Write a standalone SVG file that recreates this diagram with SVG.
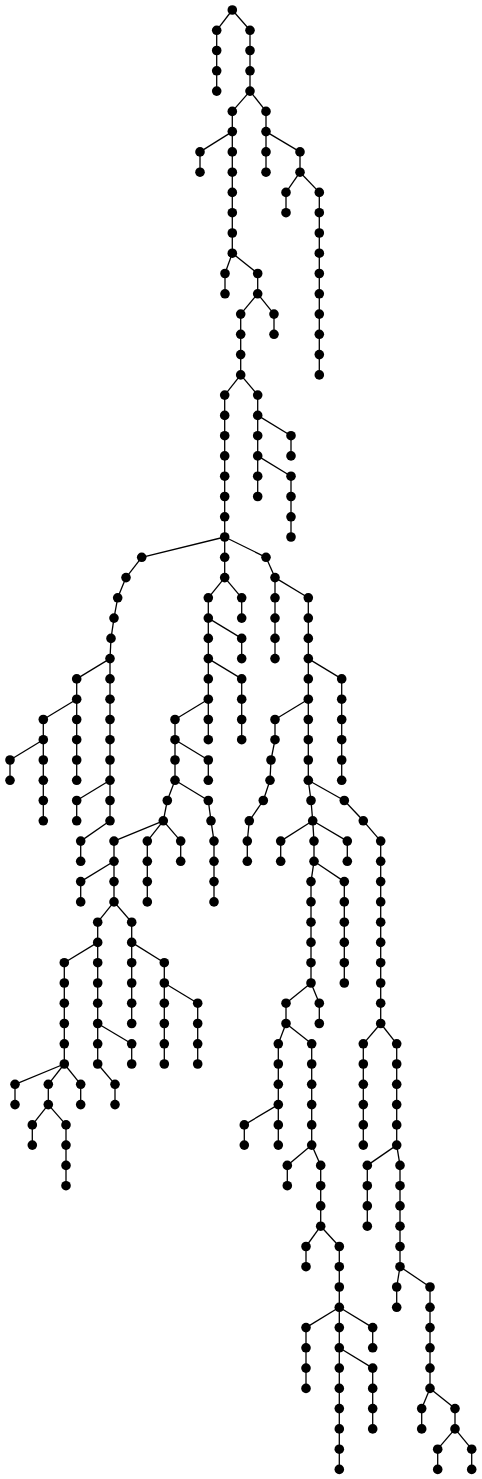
<svg xmlns="http://www.w3.org/2000/svg" width="482" height="1479" viewBox="0 0 482 1479">
<style>
.edges path{stroke:#000;stroke-width:1.3;fill:none}
.node circle{fill:#000}
</style>
<rect width="482" height="1479" fill="#fff"/>
<g id="connectors" class="edges">
<path d="M232.3 10L216.7 30.3"/><path d="M216.7 30.3L216.7 50.5"/><path d="M216.7 50.5L216.7 70.8"/><path d="M216.7 70.8L216.7 91.1"/>
<path d="M232.3 10L250 30.3"/><path d="M250 30.3L250 50.5"/><path d="M250 50.5L250 70.8"/><path d="M250 70.8L250 91.1"/>
<path d="M250 91.1L232.3 111.4"/><path d="M250 91.1L266 111.4"/><path d="M232.3 111.4L232.3 131.6"/><path d="M232.3 131.6L200 151.9"/><path d="M232.3 131.6L232.3 151.9"/><path d="M200 151.9L200 172.2"/>
<path d="M232.3 151.9L232.3 172.2"/><path d="M232.3 172.2L232.3 192.4"/><path d="M232.3 192.4L232.3 212.7"/><path d="M232.3 212.7L232.3 233"/><path d="M232.3 233L232.3 253.2"/>
<path d="M232.3 253.2L225 273.5"/><path d="M232.3 253.2L257.7 273.5"/><path d="M225 273.5L225 293.8"/><path d="M257.7 273.5L257.7 293.8"/>
<path d="M257.7 293.8L240.7 314.1"/><path d="M257.7 293.8L274 314.1"/><path d="M274 314.1L274 334.3"/><path d="M240.7 314.1L240.7 334.3"/><path d="M240.7 334.3L240.7 354.6"/><path d="M240.7 354.6L240.7 374.9"/>
<path d="M240.7 374.9L224.7 395.1"/><path d="M240.7 374.9L257.7 395.1"/>
<path d="M224.7 395.1L224.7 415.4"/><path d="M224.7 415.4L224.7 435.7"/><path d="M224.7 435.7L224.7 455.9"/><path d="M224.7 455.9L224.7 476.2"/><path d="M224.7 476.2L224.7 496.5"/><path d="M224.7 496.5L224.7 516.8"/><path d="M224.7 516.8L224.7 537"/>
<path d="M257.7 395.1L257.7 415.4"/><path d="M257.7 415.4L257.7 435.7"/><path d="M257.7 415.4L291 435.7"/><path d="M291 435.7L291 455.9"/><path d="M257.7 435.7L257.7 455.9"/><path d="M257.7 455.9L257.7 476.2"/><path d="M257.7 455.9L291 476.2"/><path d="M257.7 476.2L257.7 496.5"/><path d="M291 476.2L291 496.5"/><path d="M291 496.5L291 516.8"/><path d="M291 516.8L291 537"/>
<path d="M266 111.4L266 131.6"/><path d="M266 131.6L266 151.9"/><path d="M266 131.6L300 151.9"/><path d="M266 151.9L266 172.2"/><path d="M300 151.9L300 172.2"/><path d="M300 172.2L286 192.4"/><path d="M300 172.2L319.3 192.4"/><path d="M286 192.4L286 212.7"/>
<path d="M319.3 192.4L319.3 212.7"/><path d="M319.3 212.7L319.3 233"/><path d="M319.3 233L319.3 253.2"/><path d="M319.3 253.2L319.3 273.5"/><path d="M319.3 273.5L319.3 293.8"/><path d="M319.3 293.8L319.3 314.1"/><path d="M319.3 314.1L319.3 334.3"/><path d="M319.3 334.3L319.3 354.6"/><path d="M319.3 354.6L319.3 374.9"/>
<path d="M224.7 537L141.7 557.3"/><path d="M224.7 537L224.7 557.3"/><path d="M224.7 537L266 557.3"/>
<path d="M141.7 557.3L126 577.6"/><path d="M126 577.6L117.7 597.8"/><path d="M117.7 597.8L114 618.1"/><path d="M114 618.1L111 638.4"/><path d="M111 638.4L110 658.6"/>
<path d="M110 658.6L76.7 678.9"/><path d="M110 658.6L110 678.9"/><path d="M76.7 678.9L76.7 699.2"/><path d="M76.7 699.2L43.3 719.5"/><path d="M76.7 699.2L76.7 719.5"/><path d="M76.7 719.5L76.7 739.7"/><path d="M76.7 739.7L76.7 760"/><path d="M76.7 760L76.7 780.3"/>
<path d="M43.3 719.5L43.3 739.7"/><path d="M43.3 739.7L10 760"/><path d="M43.3 739.7L43.3 760"/><path d="M10 760L10 780.3"/><path d="M43.3 760L43.3 780.3"/><path d="M43.3 780.3L43.3 800.5"/><path d="M43.3 800.5L43.3 820.8"/>
<path d="M110 678.9L110 699.2"/><path d="M110 699.2L110 719.5"/><path d="M110 719.5L110 739.7"/><path d="M110 739.7L110 760"/><path d="M110 760L110 780.3"/><path d="M110 780.3L110 800.5"/><path d="M110 800.5L110 820.8"/>
<path d="M110 780.3L76.7 800.5"/><path d="M76.7 800.5L76.7 820.8"/><path d="M110 820.8L80.7 841.1"/><path d="M80.7 841.1L80.7 861.3"/>
<path d="M224.7 557.3L224.7 577.6"/><path d="M224.7 577.6L208.3 597.8"/><path d="M224.7 577.6L241.7 597.8"/><path d="M241.7 597.8L241.7 618.1"/><path d="M208.3 597.8L208.3 618.1"/><path d="M208.3 618.1L208.3 638.4"/><path d="M208.3 618.1L241.7 638.4"/><path d="M241.7 638.4L241.7 658.6"/>
<path d="M208.3 638.4L208.3 658.6"/><path d="M208.3 658.6L208.3 678.9"/><path d="M208.3 658.6L241.7 678.9"/><path d="M241.7 678.9L241.7 699.2"/><path d="M241.7 699.2L241.7 719.5"/><path d="M241.7 719.5L241.7 739.7"/>
<path d="M208.3 678.9L208.3 699.2"/><path d="M208.3 699.2L208.3 719.5"/><path d="M208.3 699.2L175 719.5"/><path d="M208.3 719.5L208.3 739.7"/><path d="M175 719.5L175 739.7"/><path d="M175 739.7L175 760"/><path d="M175 739.7L208.3 760"/><path d="M208.3 760L208.3 780.3"/><path d="M175 760L175 780.3"/>
<path d="M175 780.3L167.3 800.5"/><path d="M175 780.3L208.3 800.5"/><path d="M208.3 800.5L211 820.8"/><path d="M211 820.8L214 841.1"/><path d="M214 841.1L214 861.3"/><path d="M214 861.3L214 881.6"/><path d="M214 881.6L214 901.9"/>
<path d="M167.3 800.5L163.3 820.8"/><path d="M163.3 820.8L114 841.1"/><path d="M163.3 820.8L147.3 841.1"/><path d="M163.3 820.8L180.7 841.1"/><path d="M180.7 841.1L180.7 861.3"/><path d="M147.3 841.1L147.3 861.3"/><path d="M147.3 861.3L147.3 881.6"/><path d="M147.3 881.6L147.3 901.9"/>
<path d="M114 841.1L114 861.3"/><path d="M114 861.3L80.7 881.6"/><path d="M114 861.3L114 881.6"/><path d="M80.7 881.6L80.7 901.9"/><path d="M114 881.6L114 901.9"/><path d="M114 901.9L97.7 922.2"/><path d="M114 901.9L131.7 922.2"/>
<path d="M97.7 922.2L97.7 942.4"/><path d="M97.7 942.4L64.3 962.7"/><path d="M97.7 942.4L97.7 962.7"/>
<path d="M64.3 962.7L64.3 983"/><path d="M64.3 983L64.3 1003.2"/><path d="M64.3 1003.2L64.3 1023.5"/><path d="M64.3 1023.5L64.3 1043.8"/><path d="M64.3 1043.8L64.3 1064"/>
<path d="M64.3 1064L15 1084.3"/><path d="M64.3 1064L48.3 1084.3"/><path d="M64.3 1064L80.7 1084.3"/><path d="M15 1084.3L15 1104.6"/><path d="M80.7 1084.3L80.7 1104.6"/><path d="M48.3 1084.3L48.3 1104.6"/>
<path d="M48.3 1104.6L32.3 1124.9"/><path d="M48.3 1104.6L66 1124.9"/><path d="M32.3 1124.9L32.3 1145.1"/><path d="M66 1124.9L66 1145.1"/><path d="M66 1145.1L66 1165.4"/><path d="M66 1165.4L66 1185.7"/>
<path d="M97.7 962.7L97.7 983"/><path d="M97.7 983L97.7 1003.2"/><path d="M97.7 1003.2L97.7 1023.5"/><path d="M97.7 1023.5L97.7 1043.8"/><path d="M97.7 1023.5L131.7 1043.8"/><path d="M131.7 1043.8L131.7 1064"/><path d="M97.7 1043.8L97.7 1064"/><path d="M97.7 1064L115 1084.3"/><path d="M115 1084.3L115 1104.6"/>
<path d="M131.7 922.2L131.7 942.4"/><path d="M131.7 942.4L131.7 962.7"/><path d="M131.7 942.4L164.3 962.7"/><path d="M131.7 962.7L131.7 983"/><path d="M131.7 983L131.7 1003.2"/><path d="M131.7 1003.2L131.7 1023.5"/>
<path d="M164.3 962.7L164.3 983"/><path d="M164.3 983L164.3 1003.2"/><path d="M164.3 983L197.7 1003.2"/><path d="M164.3 1003.2L164.3 1023.5"/><path d="M164.3 1023.5L164.3 1043.8"/><path d="M164.3 1043.8L164.3 1064"/>
<path d="M197.7 1003.2L197.7 1023.5"/><path d="M197.7 1023.5L197.7 1043.8"/><path d="M197.7 1043.8L197.7 1064"/>
<path d="M266 557.3L275 577.6"/><path d="M275 577.6L275 597.8"/><path d="M275 577.6L308.3 597.8"/><path d="M275 597.8L275 618.1"/><path d="M275 618.1L275 638.4"/><path d="M275 638.4L275 658.6"/>
<path d="M308.3 597.8L308.3 618.1"/><path d="M308.3 618.1L308.3 638.4"/><path d="M308.3 638.4L308.3 658.6"/><path d="M308.3 658.6L308.3 678.9"/><path d="M308.3 658.6L341.7 678.9"/>
<path d="M341.7 678.9L341.7 699.2"/><path d="M341.7 699.2L341.7 719.5"/><path d="M341.7 719.5L341.7 739.7"/><path d="M341.7 739.7L341.7 760"/><path d="M341.7 760L341.7 780.3"/>
<path d="M308.3 678.9L308.3 699.2"/><path d="M308.3 699.2L308.3 719.5"/><path d="M308.3 699.2L275 719.5"/><path d="M275 719.5L275 739.7"/><path d="M275 739.7L271 760"/><path d="M271 760L270 780.3"/><path d="M270 780.3L263.3 800.5"/><path d="M263.3 800.5L249.3 820.8"/><path d="M249.3 820.8L247.3 841.1"/><path d="M247.3 841.1L247.3 861.3"/>
<path d="M308.3 719.5L308.3 739.7"/><path d="M308.3 739.7L308.3 760"/><path d="M308.3 760L308.3 780.3"/><path d="M308.3 780.3L311 800.5"/><path d="M308.3 780.3L344.3 800.5"/>
<path d="M311 800.5L312.7 820.8"/><path d="M312.7 820.8L280.7 841.1"/><path d="M312.7 820.8L314 841.1"/><path d="M312.7 820.8L347.3 841.1"/><path d="M280.7 841.1L280.7 861.3"/><path d="M347.3 841.1L347.3 861.3"/><path d="M314 841.1L314 861.3"/>
<path d="M314 861.3L311 881.6"/><path d="M314 861.3L344.3 881.6"/>
<path d="M344.3 881.6L344.3 901.9"/><path d="M344.3 901.9L344.3 922.2"/><path d="M344.3 922.2L344.3 942.4"/><path d="M344.3 942.4L344.3 962.7"/><path d="M344.3 962.7L344.3 983"/>
<path d="M311 881.6L311 901.9"/><path d="M311 901.9L311 922.2"/><path d="M311 922.2L311 942.4"/><path d="M311 942.4L311 962.7"/><path d="M311 962.7L311 983"/>
<path d="M311 983L286 1003.2"/><path d="M311 983L319.3 1003.2"/><path d="M319.3 1003.2L319.3 1023.5"/><path d="M286 1003.2L286 1023.5"/><path d="M286 1023.5L278.3 1043.8"/><path d="M286 1023.5L311.7 1043.8"/>
<path d="M278.3 1043.8L278.3 1064"/><path d="M278.3 1064L278.3 1084.3"/><path d="M278.3 1084.3L278.3 1104.6"/><path d="M278.3 1104.6L278.3 1124.9"/><path d="M278.3 1104.6L244.3 1124.9"/><path d="M278.3 1124.9L278.3 1145.1"/><path d="M244.3 1124.9L244.3 1145.1"/>
<path d="M311.7 1043.8L311.7 1064"/><path d="M311.7 1064L311.7 1084.3"/><path d="M311.7 1084.3L311.7 1104.6"/><path d="M311.7 1104.6L311.7 1124.9"/><path d="M311.7 1124.9L311.7 1145.1"/>
<path d="M311.7 1145.1L287.3 1165.4"/><path d="M311.7 1145.1L320.7 1165.4"/><path d="M287.3 1165.4L287.3 1185.7"/><path d="M320.7 1165.4L320.7 1185.7"/><path d="M320.7 1185.7L320.7 1205.9"/><path d="M320.7 1205.9L320.7 1226.2"/>
<path d="M320.7 1226.2L306 1246.5"/><path d="M320.7 1226.2L339.3 1246.5"/><path d="M306 1246.5L306 1266.7"/><path d="M339.3 1246.5L339.3 1266.7"/><path d="M339.3 1266.7L339.3 1287"/><path d="M339.3 1287L339.3 1307.3"/>
<path d="M339.3 1307.3L306 1327.6"/><path d="M339.3 1307.3L339.3 1327.6"/><path d="M339.3 1307.3L372.7 1327.6"/>
<path d="M306 1327.6L306 1347.8"/><path d="M306 1347.8L306 1368.1"/><path d="M306 1368.1L306 1388.4"/><path d="M372.7 1327.6L372.7 1347.8"/>
<path d="M339.3 1327.6L339.3 1347.8"/><path d="M339.3 1347.8L339.3 1368.1"/><path d="M339.3 1347.8L372.7 1368.1"/>
<path d="M339.3 1368.1L339.3 1388.4"/><path d="M339.3 1388.4L339.3 1408.6"/><path d="M339.3 1408.6L339.3 1428.9"/><path d="M339.3 1428.9L339.3 1449.2"/><path d="M339.3 1449.2L339.3 1469.4"/>
<path d="M372.7 1368.1L372.7 1388.4"/><path d="M372.7 1388.4L372.7 1408.6"/><path d="M372.7 1408.6L372.7 1428.9"/>
<path d="M344.3 800.5L363.3 820.8"/><path d="M363.3 820.8L380.7 841.1"/>
<path d="M380.7 841.1L380.7 861.3"/><path d="M380.7 861.3L380.7 881.6"/><path d="M380.7 881.6L380.7 901.9"/><path d="M380.7 901.9L380.7 922.2"/><path d="M380.7 922.2L380.7 942.4"/><path d="M380.7 942.4L380.7 962.7"/><path d="M380.7 962.7L380.7 983"/><path d="M380.7 983L380.7 1003.2"/><path d="M380.7 1003.2L380.7 1023.5"/>
<path d="M380.7 1023.5L363.3 1043.8"/><path d="M380.7 1023.5L396.7 1043.8"/>
<path d="M363.3 1043.8L363.3 1064"/><path d="M363.3 1064L363.3 1084.3"/><path d="M363.3 1084.3L363.3 1104.6"/><path d="M363.3 1104.6L363.3 1124.9"/><path d="M363.3 1124.9L363.3 1145.1"/>
<path d="M396.7 1043.8L396.7 1064"/><path d="M396.7 1064L396.7 1084.3"/><path d="M396.7 1084.3L396.7 1104.6"/><path d="M396.7 1104.6L396.7 1124.9"/><path d="M396.7 1124.9L396.7 1145.1"/>
<path d="M396.7 1145.1L367.3 1165.4"/><path d="M396.7 1145.1L400 1165.4"/>
<path d="M367.3 1165.4L367.3 1185.7"/><path d="M367.3 1185.7L367.3 1205.9"/><path d="M367.3 1205.9L367.3 1226.2"/>
<path d="M400 1165.4L400 1185.7"/><path d="M400 1185.7L400 1205.9"/><path d="M400 1205.9L400 1226.2"/><path d="M400 1226.2L400 1246.5"/><path d="M400 1246.5L400 1266.7"/>
<path d="M400 1266.7L396.7 1287"/><path d="M400 1266.7L430 1287"/><path d="M396.7 1287L396.7 1307.3"/>
<path d="M430 1287L430 1307.3"/><path d="M430 1307.3L430 1327.6"/><path d="M430 1327.6L430 1347.8"/><path d="M430 1347.8L430 1368.1"/><path d="M430 1368.1L430 1388.4"/>
<path d="M430 1388.4L421.7 1408.6"/><path d="M430 1388.4L455 1408.6"/><path d="M421.7 1408.6L421.7 1428.9"/><path d="M455 1408.6L455 1428.9"/>
<path d="M455 1428.9L437.7 1449.2"/><path d="M455 1428.9L471.7 1449.2"/><path d="M437.7 1449.2L437.7 1469.4"/><path d="M471.7 1449.2L471.7 1469.4"/>
</g>
<g class="node">
<g id="n0"><circle cx="232.3" cy="10" r="4.8"/></g>
<g id="n1"><circle cx="216.7" cy="30.3" r="4.8"/></g>
<g id="n2"><circle cx="216.7" cy="50.5" r="4.8"/></g>
<g id="n3"><circle cx="216.7" cy="70.8" r="4.8"/></g>
<g id="n4"><circle cx="216.7" cy="91.1" r="4.8"/></g>
<g id="n5"><circle cx="250" cy="30.3" r="4.8"/></g>
<g id="n6"><circle cx="250" cy="50.5" r="4.8"/></g>
<g id="n7"><circle cx="250" cy="70.8" r="4.8"/></g>
<g id="n8"><circle cx="250" cy="91.1" r="4.8"/></g>
<g id="n9"><circle cx="232.3" cy="111.4" r="4.8"/></g>
<g id="n10"><circle cx="266" cy="111.4" r="4.8"/></g>
<g id="n11"><circle cx="232.3" cy="131.6" r="4.8"/></g>
<g id="n12"><circle cx="200" cy="151.9" r="4.8"/></g>
<g id="n13"><circle cx="232.3" cy="151.9" r="4.8"/></g>
<g id="n14"><circle cx="200" cy="172.2" r="4.8"/></g>
<g id="n15"><circle cx="232.3" cy="172.2" r="4.8"/></g>
<g id="n16"><circle cx="232.3" cy="192.4" r="4.8"/></g>
<g id="n17"><circle cx="232.3" cy="212.7" r="4.8"/></g>
<g id="n18"><circle cx="232.3" cy="233" r="4.8"/></g>
<g id="n19"><circle cx="232.3" cy="253.2" r="4.8"/></g>
<g id="n20"><circle cx="225" cy="273.5" r="4.8"/></g>
<g id="n21"><circle cx="257.7" cy="273.5" r="4.8"/></g>
<g id="n22"><circle cx="225" cy="293.8" r="4.8"/></g>
<g id="n23"><circle cx="257.7" cy="293.8" r="4.8"/></g>
<g id="n24"><circle cx="240.7" cy="314.1" r="4.8"/></g>
<g id="n25"><circle cx="274" cy="314.1" r="4.8"/></g>
<g id="n26"><circle cx="274" cy="334.3" r="4.8"/></g>
<g id="n27"><circle cx="240.7" cy="334.3" r="4.8"/></g>
<g id="n28"><circle cx="240.7" cy="354.6" r="4.8"/></g>
<g id="n29"><circle cx="240.7" cy="374.9" r="4.8"/></g>
<g id="n30"><circle cx="224.7" cy="395.1" r="4.8"/></g>
<g id="n31"><circle cx="257.7" cy="395.1" r="4.8"/></g>
<g id="n32"><circle cx="224.7" cy="415.4" r="4.8"/></g>
<g id="n33"><circle cx="224.7" cy="435.7" r="4.8"/></g>
<g id="n34"><circle cx="224.7" cy="455.9" r="4.8"/></g>
<g id="n35"><circle cx="224.7" cy="476.2" r="4.8"/></g>
<g id="n36"><circle cx="224.7" cy="496.5" r="4.8"/></g>
<g id="n37"><circle cx="224.7" cy="516.8" r="4.8"/></g>
<g id="n38"><circle cx="224.7" cy="537" r="4.8"/></g>
<g id="n39"><circle cx="257.7" cy="415.4" r="4.8"/></g>
<g id="n40"><circle cx="257.7" cy="435.7" r="4.8"/></g>
<g id="n41"><circle cx="291" cy="435.7" r="4.8"/></g>
<g id="n42"><circle cx="291" cy="455.9" r="4.8"/></g>
<g id="n43"><circle cx="257.7" cy="455.9" r="4.8"/></g>
<g id="n44"><circle cx="257.7" cy="476.2" r="4.8"/></g>
<g id="n45"><circle cx="291" cy="476.2" r="4.8"/></g>
<g id="n46"><circle cx="257.7" cy="496.5" r="4.8"/></g>
<g id="n47"><circle cx="291" cy="496.5" r="4.8"/></g>
<g id="n48"><circle cx="291" cy="516.8" r="4.8"/></g>
<g id="n49"><circle cx="291" cy="537" r="4.8"/></g>
<g id="n50"><circle cx="266" cy="131.6" r="4.8"/></g>
<g id="n51"><circle cx="266" cy="151.9" r="4.8"/></g>
<g id="n52"><circle cx="300" cy="151.9" r="4.8"/></g>
<g id="n53"><circle cx="266" cy="172.2" r="4.8"/></g>
<g id="n54"><circle cx="300" cy="172.2" r="4.8"/></g>
<g id="n55"><circle cx="286" cy="192.4" r="4.8"/></g>
<g id="n56"><circle cx="319.3" cy="192.4" r="4.8"/></g>
<g id="n57"><circle cx="286" cy="212.7" r="4.8"/></g>
<g id="n58"><circle cx="319.3" cy="212.7" r="4.8"/></g>
<g id="n59"><circle cx="319.3" cy="233" r="4.8"/></g>
<g id="n60"><circle cx="319.3" cy="253.2" r="4.8"/></g>
<g id="n61"><circle cx="319.3" cy="273.5" r="4.8"/></g>
<g id="n62"><circle cx="319.3" cy="293.8" r="4.8"/></g>
<g id="n63"><circle cx="319.3" cy="314.1" r="4.8"/></g>
<g id="n64"><circle cx="319.3" cy="334.3" r="4.8"/></g>
<g id="n65"><circle cx="319.3" cy="354.6" r="4.8"/></g>
<g id="n66"><circle cx="319.3" cy="374.9" r="4.8"/></g>
<g id="n67"><circle cx="141.7" cy="557.3" r="4.8"/></g>
<g id="n68"><circle cx="224.7" cy="557.3" r="4.8"/></g>
<g id="n69"><circle cx="266" cy="557.3" r="4.8"/></g>
<g id="n70"><circle cx="126" cy="577.6" r="4.8"/></g>
<g id="n71"><circle cx="117.7" cy="597.8" r="4.8"/></g>
<g id="n72"><circle cx="114" cy="618.1" r="4.8"/></g>
<g id="n73"><circle cx="111" cy="638.4" r="4.8"/></g>
<g id="n74"><circle cx="110" cy="658.6" r="4.8"/></g>
<g id="n75"><circle cx="76.7" cy="678.9" r="4.8"/></g>
<g id="n76"><circle cx="110" cy="678.9" r="4.8"/></g>
<g id="n77"><circle cx="76.7" cy="699.2" r="4.8"/></g>
<g id="n78"><circle cx="43.3" cy="719.5" r="4.8"/></g>
<g id="n79"><circle cx="76.7" cy="719.5" r="4.8"/></g>
<g id="n80"><circle cx="76.7" cy="739.7" r="4.8"/></g>
<g id="n81"><circle cx="76.7" cy="760" r="4.8"/></g>
<g id="n82"><circle cx="76.7" cy="780.3" r="4.8"/></g>
<g id="n83"><circle cx="43.3" cy="739.7" r="4.8"/></g>
<g id="n84"><circle cx="10" cy="760" r="4.8"/></g>
<g id="n85"><circle cx="43.3" cy="760" r="4.8"/></g>
<g id="n86"><circle cx="10" cy="780.3" r="4.8"/></g>
<g id="n87"><circle cx="43.3" cy="780.3" r="4.8"/></g>
<g id="n88"><circle cx="43.3" cy="800.5" r="4.8"/></g>
<g id="n89"><circle cx="43.3" cy="820.8" r="4.8"/></g>
<g id="n90"><circle cx="110" cy="699.2" r="4.8"/></g>
<g id="n91"><circle cx="110" cy="719.5" r="4.8"/></g>
<g id="n92"><circle cx="110" cy="739.7" r="4.8"/></g>
<g id="n93"><circle cx="110" cy="760" r="4.8"/></g>
<g id="n94"><circle cx="110" cy="780.3" r="4.8"/></g>
<g id="n95"><circle cx="110" cy="800.5" r="4.8"/></g>
<g id="n96"><circle cx="110" cy="820.8" r="4.8"/></g>
<g id="n97"><circle cx="76.7" cy="800.5" r="4.8"/></g>
<g id="n98"><circle cx="76.7" cy="820.8" r="4.8"/></g>
<g id="n99"><circle cx="80.7" cy="841.1" r="4.8"/></g>
<g id="n100"><circle cx="80.7" cy="861.3" r="4.8"/></g>
<g id="n101"><circle cx="224.7" cy="577.6" r="4.8"/></g>
<g id="n102"><circle cx="208.3" cy="597.8" r="4.8"/></g>
<g id="n103"><circle cx="241.7" cy="597.8" r="4.8"/></g>
<g id="n104"><circle cx="241.7" cy="618.1" r="4.8"/></g>
<g id="n105"><circle cx="208.3" cy="618.1" r="4.8"/></g>
<g id="n106"><circle cx="208.3" cy="638.4" r="4.8"/></g>
<g id="n107"><circle cx="241.7" cy="638.4" r="4.8"/></g>
<g id="n108"><circle cx="241.7" cy="658.6" r="4.8"/></g>
<g id="n109"><circle cx="208.3" cy="658.6" r="4.8"/></g>
<g id="n110"><circle cx="208.3" cy="678.9" r="4.8"/></g>
<g id="n111"><circle cx="241.7" cy="678.9" r="4.8"/></g>
<g id="n112"><circle cx="241.7" cy="699.2" r="4.8"/></g>
<g id="n113"><circle cx="241.7" cy="719.5" r="4.8"/></g>
<g id="n114"><circle cx="241.7" cy="739.7" r="4.8"/></g>
<g id="n115"><circle cx="208.3" cy="699.2" r="4.8"/></g>
<g id="n116"><circle cx="208.3" cy="719.5" r="4.8"/></g>
<g id="n117"><circle cx="175" cy="719.5" r="4.8"/></g>
<g id="n118"><circle cx="208.3" cy="739.7" r="4.8"/></g>
<g id="n119"><circle cx="175" cy="739.7" r="4.8"/></g>
<g id="n120"><circle cx="175" cy="760" r="4.8"/></g>
<g id="n121"><circle cx="208.3" cy="760" r="4.8"/></g>
<g id="n122"><circle cx="208.3" cy="780.3" r="4.8"/></g>
<g id="n123"><circle cx="175" cy="780.3" r="4.8"/></g>
<g id="n124"><circle cx="167.3" cy="800.5" r="4.8"/></g>
<g id="n125"><circle cx="208.3" cy="800.5" r="4.8"/></g>
<g id="n126"><circle cx="211" cy="820.8" r="4.8"/></g>
<g id="n127"><circle cx="214" cy="841.1" r="4.8"/></g>
<g id="n128"><circle cx="214" cy="861.3" r="4.8"/></g>
<g id="n129"><circle cx="214" cy="881.6" r="4.8"/></g>
<g id="n130"><circle cx="214" cy="901.9" r="4.8"/></g>
<g id="n131"><circle cx="163.3" cy="820.8" r="4.8"/></g>
<g id="n132"><circle cx="114" cy="841.1" r="4.8"/></g>
<g id="n133"><circle cx="147.3" cy="841.1" r="4.8"/></g>
<g id="n134"><circle cx="180.7" cy="841.1" r="4.8"/></g>
<g id="n135"><circle cx="180.7" cy="861.3" r="4.8"/></g>
<g id="n136"><circle cx="147.3" cy="861.3" r="4.8"/></g>
<g id="n137"><circle cx="147.3" cy="881.6" r="4.8"/></g>
<g id="n138"><circle cx="147.3" cy="901.9" r="4.8"/></g>
<g id="n139"><circle cx="114" cy="861.3" r="4.8"/></g>
<g id="n140"><circle cx="80.7" cy="881.6" r="4.8"/></g>
<g id="n141"><circle cx="114" cy="881.6" r="4.8"/></g>
<g id="n142"><circle cx="80.7" cy="901.9" r="4.8"/></g>
<g id="n143"><circle cx="114" cy="901.9" r="4.8"/></g>
<g id="n144"><circle cx="97.7" cy="922.2" r="4.8"/></g>
<g id="n145"><circle cx="131.7" cy="922.2" r="4.8"/></g>
<g id="n146"><circle cx="97.7" cy="942.4" r="4.8"/></g>
<g id="n147"><circle cx="64.3" cy="962.7" r="4.8"/></g>
<g id="n148"><circle cx="97.7" cy="962.7" r="4.8"/></g>
<g id="n149"><circle cx="64.3" cy="983" r="4.8"/></g>
<g id="n150"><circle cx="64.3" cy="1003.2" r="4.8"/></g>
<g id="n151"><circle cx="64.3" cy="1023.5" r="4.8"/></g>
<g id="n152"><circle cx="64.3" cy="1043.8" r="4.8"/></g>
<g id="n153"><circle cx="64.3" cy="1064" r="4.8"/></g>
<g id="n154"><circle cx="15" cy="1084.3" r="4.8"/></g>
<g id="n155"><circle cx="48.3" cy="1084.3" r="4.8"/></g>
<g id="n156"><circle cx="80.7" cy="1084.3" r="4.8"/></g>
<g id="n157"><circle cx="15" cy="1104.6" r="4.8"/></g>
<g id="n158"><circle cx="80.7" cy="1104.6" r="4.8"/></g>
<g id="n159"><circle cx="48.3" cy="1104.6" r="4.8"/></g>
<g id="n160"><circle cx="32.3" cy="1124.9" r="4.8"/></g>
<g id="n161"><circle cx="66" cy="1124.9" r="4.8"/></g>
<g id="n162"><circle cx="32.3" cy="1145.1" r="4.8"/></g>
<g id="n163"><circle cx="66" cy="1145.1" r="4.8"/></g>
<g id="n164"><circle cx="66" cy="1165.4" r="4.8"/></g>
<g id="n165"><circle cx="66" cy="1185.7" r="4.8"/></g>
<g id="n166"><circle cx="97.7" cy="983" r="4.8"/></g>
<g id="n167"><circle cx="97.7" cy="1003.2" r="4.8"/></g>
<g id="n168"><circle cx="97.7" cy="1023.5" r="4.8"/></g>
<g id="n169"><circle cx="97.7" cy="1043.8" r="4.8"/></g>
<g id="n170"><circle cx="131.7" cy="1043.8" r="4.8"/></g>
<g id="n171"><circle cx="131.7" cy="1064" r="4.8"/></g>
<g id="n172"><circle cx="97.7" cy="1064" r="4.8"/></g>
<g id="n173"><circle cx="115" cy="1084.3" r="4.8"/></g>
<g id="n174"><circle cx="115" cy="1104.6" r="4.8"/></g>
<g id="n175"><circle cx="131.7" cy="942.4" r="4.8"/></g>
<g id="n176"><circle cx="131.7" cy="962.7" r="4.8"/></g>
<g id="n177"><circle cx="164.3" cy="962.7" r="4.8"/></g>
<g id="n178"><circle cx="131.7" cy="983" r="4.8"/></g>
<g id="n179"><circle cx="131.7" cy="1003.2" r="4.8"/></g>
<g id="n180"><circle cx="131.7" cy="1023.5" r="4.8"/></g>
<g id="n181"><circle cx="164.3" cy="983" r="4.8"/></g>
<g id="n182"><circle cx="164.3" cy="1003.2" r="4.8"/></g>
<g id="n183"><circle cx="197.7" cy="1003.2" r="4.8"/></g>
<g id="n184"><circle cx="164.3" cy="1023.5" r="4.8"/></g>
<g id="n185"><circle cx="164.3" cy="1043.8" r="4.8"/></g>
<g id="n186"><circle cx="164.3" cy="1064" r="4.8"/></g>
<g id="n187"><circle cx="197.7" cy="1023.5" r="4.8"/></g>
<g id="n188"><circle cx="197.7" cy="1043.8" r="4.8"/></g>
<g id="n189"><circle cx="197.7" cy="1064" r="4.8"/></g>
<g id="n190"><circle cx="275" cy="577.6" r="4.8"/></g>
<g id="n191"><circle cx="275" cy="597.8" r="4.8"/></g>
<g id="n192"><circle cx="308.3" cy="597.8" r="4.8"/></g>
<g id="n193"><circle cx="275" cy="618.1" r="4.8"/></g>
<g id="n194"><circle cx="275" cy="638.4" r="4.8"/></g>
<g id="n195"><circle cx="275" cy="658.6" r="4.8"/></g>
<g id="n196"><circle cx="308.3" cy="618.1" r="4.8"/></g>
<g id="n197"><circle cx="308.3" cy="638.4" r="4.8"/></g>
<g id="n198"><circle cx="308.3" cy="658.6" r="4.8"/></g>
<g id="n199"><circle cx="308.3" cy="678.9" r="4.8"/></g>
<g id="n200"><circle cx="341.7" cy="678.9" r="4.8"/></g>
<g id="n201"><circle cx="341.7" cy="699.2" r="4.8"/></g>
<g id="n202"><circle cx="341.7" cy="719.5" r="4.8"/></g>
<g id="n203"><circle cx="341.7" cy="739.7" r="4.8"/></g>
<g id="n204"><circle cx="341.7" cy="760" r="4.8"/></g>
<g id="n205"><circle cx="341.7" cy="780.3" r="4.8"/></g>
<g id="n206"><circle cx="308.3" cy="699.2" r="4.8"/></g>
<g id="n207"><circle cx="308.3" cy="719.5" r="4.8"/></g>
<g id="n208"><circle cx="275" cy="719.5" r="4.8"/></g>
<g id="n209"><circle cx="275" cy="739.7" r="4.8"/></g>
<g id="n210"><circle cx="271" cy="760" r="4.8"/></g>
<g id="n211"><circle cx="270" cy="780.3" r="4.8"/></g>
<g id="n212"><circle cx="263.3" cy="800.5" r="4.8"/></g>
<g id="n213"><circle cx="249.3" cy="820.8" r="4.8"/></g>
<g id="n214"><circle cx="247.3" cy="841.1" r="4.8"/></g>
<g id="n215"><circle cx="247.3" cy="861.3" r="4.8"/></g>
<g id="n216"><circle cx="308.3" cy="739.7" r="4.8"/></g>
<g id="n217"><circle cx="308.3" cy="760" r="4.8"/></g>
<g id="n218"><circle cx="308.3" cy="780.3" r="4.8"/></g>
<g id="n219"><circle cx="311" cy="800.5" r="4.8"/></g>
<g id="n220"><circle cx="344.3" cy="800.5" r="4.8"/></g>
<g id="n221"><circle cx="312.7" cy="820.8" r="4.8"/></g>
<g id="n222"><circle cx="280.7" cy="841.1" r="4.8"/></g>
<g id="n223"><circle cx="314" cy="841.1" r="4.8"/></g>
<g id="n224"><circle cx="347.3" cy="841.1" r="4.8"/></g>
<g id="n225"><circle cx="280.7" cy="861.3" r="4.8"/></g>
<g id="n226"><circle cx="347.3" cy="861.3" r="4.8"/></g>
<g id="n227"><circle cx="314" cy="861.3" r="4.8"/></g>
<g id="n228"><circle cx="311" cy="881.6" r="4.8"/></g>
<g id="n229"><circle cx="344.3" cy="881.6" r="4.8"/></g>
<g id="n230"><circle cx="344.3" cy="901.9" r="4.8"/></g>
<g id="n231"><circle cx="344.3" cy="922.2" r="4.8"/></g>
<g id="n232"><circle cx="344.3" cy="942.4" r="4.8"/></g>
<g id="n233"><circle cx="344.3" cy="962.7" r="4.8"/></g>
<g id="n234"><circle cx="344.3" cy="983" r="4.8"/></g>
<g id="n235"><circle cx="311" cy="901.9" r="4.8"/></g>
<g id="n236"><circle cx="311" cy="922.2" r="4.8"/></g>
<g id="n237"><circle cx="311" cy="942.4" r="4.8"/></g>
<g id="n238"><circle cx="311" cy="962.7" r="4.8"/></g>
<g id="n239"><circle cx="311" cy="983" r="4.8"/></g>
<g id="n240"><circle cx="286" cy="1003.2" r="4.8"/></g>
<g id="n241"><circle cx="319.3" cy="1003.2" r="4.8"/></g>
<g id="n242"><circle cx="319.3" cy="1023.5" r="4.8"/></g>
<g id="n243"><circle cx="286" cy="1023.5" r="4.8"/></g>
<g id="n244"><circle cx="278.3" cy="1043.8" r="4.8"/></g>
<g id="n245"><circle cx="311.7" cy="1043.8" r="4.8"/></g>
<g id="n246"><circle cx="278.3" cy="1064" r="4.8"/></g>
<g id="n247"><circle cx="278.3" cy="1084.3" r="4.8"/></g>
<g id="n248"><circle cx="278.3" cy="1104.6" r="4.8"/></g>
<g id="n249"><circle cx="278.3" cy="1124.9" r="4.8"/></g>
<g id="n250"><circle cx="244.3" cy="1124.9" r="4.8"/></g>
<g id="n251"><circle cx="278.3" cy="1145.1" r="4.8"/></g>
<g id="n252"><circle cx="244.3" cy="1145.1" r="4.8"/></g>
<g id="n253"><circle cx="311.7" cy="1064" r="4.8"/></g>
<g id="n254"><circle cx="311.7" cy="1084.3" r="4.8"/></g>
<g id="n255"><circle cx="311.7" cy="1104.6" r="4.8"/></g>
<g id="n256"><circle cx="311.7" cy="1124.9" r="4.8"/></g>
<g id="n257"><circle cx="311.7" cy="1145.1" r="4.8"/></g>
<g id="n258"><circle cx="287.3" cy="1165.4" r="4.8"/></g>
<g id="n259"><circle cx="320.7" cy="1165.4" r="4.8"/></g>
<g id="n260"><circle cx="287.3" cy="1185.7" r="4.8"/></g>
<g id="n261"><circle cx="320.7" cy="1185.7" r="4.8"/></g>
<g id="n262"><circle cx="320.7" cy="1205.9" r="4.8"/></g>
<g id="n263"><circle cx="320.7" cy="1226.2" r="4.8"/></g>
<g id="n264"><circle cx="306" cy="1246.5" r="4.8"/></g>
<g id="n265"><circle cx="339.3" cy="1246.5" r="4.8"/></g>
<g id="n266"><circle cx="306" cy="1266.7" r="4.8"/></g>
<g id="n267"><circle cx="339.3" cy="1266.7" r="4.8"/></g>
<g id="n268"><circle cx="339.3" cy="1287" r="4.8"/></g>
<g id="n269"><circle cx="339.3" cy="1307.3" r="4.8"/></g>
<g id="n270"><circle cx="306" cy="1327.6" r="4.8"/></g>
<g id="n271"><circle cx="339.3" cy="1327.6" r="4.8"/></g>
<g id="n272"><circle cx="372.7" cy="1327.6" r="4.8"/></g>
<g id="n273"><circle cx="306" cy="1347.8" r="4.8"/></g>
<g id="n274"><circle cx="306" cy="1368.1" r="4.8"/></g>
<g id="n275"><circle cx="306" cy="1388.4" r="4.8"/></g>
<g id="n276"><circle cx="372.7" cy="1347.8" r="4.8"/></g>
<g id="n277"><circle cx="339.3" cy="1347.8" r="4.8"/></g>
<g id="n278"><circle cx="339.3" cy="1368.1" r="4.8"/></g>
<g id="n279"><circle cx="372.7" cy="1368.1" r="4.8"/></g>
<g id="n280"><circle cx="339.3" cy="1388.4" r="4.8"/></g>
<g id="n281"><circle cx="339.3" cy="1408.6" r="4.8"/></g>
<g id="n282"><circle cx="339.3" cy="1428.9" r="4.8"/></g>
<g id="n283"><circle cx="339.3" cy="1449.2" r="4.8"/></g>
<g id="n284"><circle cx="339.3" cy="1469.4" r="4.8"/></g>
<g id="n285"><circle cx="372.7" cy="1388.4" r="4.8"/></g>
<g id="n286"><circle cx="372.7" cy="1408.6" r="4.8"/></g>
<g id="n287"><circle cx="372.7" cy="1428.9" r="4.8"/></g>
<g id="n288"><circle cx="363.3" cy="820.8" r="4.8"/></g>
<g id="n289"><circle cx="380.7" cy="841.1" r="4.8"/></g>
<g id="n290"><circle cx="380.7" cy="861.3" r="4.8"/></g>
<g id="n291"><circle cx="380.7" cy="881.6" r="4.8"/></g>
<g id="n292"><circle cx="380.7" cy="901.9" r="4.8"/></g>
<g id="n293"><circle cx="380.7" cy="922.2" r="4.8"/></g>
<g id="n294"><circle cx="380.7" cy="942.4" r="4.8"/></g>
<g id="n295"><circle cx="380.7" cy="962.7" r="4.8"/></g>
<g id="n296"><circle cx="380.7" cy="983" r="4.8"/></g>
<g id="n297"><circle cx="380.7" cy="1003.2" r="4.8"/></g>
<g id="n298"><circle cx="380.7" cy="1023.5" r="4.8"/></g>
<g id="n299"><circle cx="363.3" cy="1043.8" r="4.8"/></g>
<g id="n300"><circle cx="396.7" cy="1043.8" r="4.8"/></g>
<g id="n301"><circle cx="363.3" cy="1064" r="4.8"/></g>
<g id="n302"><circle cx="363.3" cy="1084.3" r="4.8"/></g>
<g id="n303"><circle cx="363.3" cy="1104.6" r="4.8"/></g>
<g id="n304"><circle cx="363.3" cy="1124.9" r="4.8"/></g>
<g id="n305"><circle cx="363.3" cy="1145.1" r="4.8"/></g>
<g id="n306"><circle cx="396.7" cy="1064" r="4.8"/></g>
<g id="n307"><circle cx="396.7" cy="1084.3" r="4.8"/></g>
<g id="n308"><circle cx="396.7" cy="1104.6" r="4.8"/></g>
<g id="n309"><circle cx="396.7" cy="1124.9" r="4.8"/></g>
<g id="n310"><circle cx="396.7" cy="1145.1" r="4.8"/></g>
<g id="n311"><circle cx="367.3" cy="1165.4" r="4.8"/></g>
<g id="n312"><circle cx="400" cy="1165.4" r="4.8"/></g>
<g id="n313"><circle cx="367.3" cy="1185.7" r="4.8"/></g>
<g id="n314"><circle cx="367.3" cy="1205.9" r="4.8"/></g>
<g id="n315"><circle cx="367.3" cy="1226.2" r="4.8"/></g>
<g id="n316"><circle cx="400" cy="1185.7" r="4.8"/></g>
<g id="n317"><circle cx="400" cy="1205.9" r="4.8"/></g>
<g id="n318"><circle cx="400" cy="1226.2" r="4.8"/></g>
<g id="n319"><circle cx="400" cy="1246.5" r="4.8"/></g>
<g id="n320"><circle cx="400" cy="1266.7" r="4.8"/></g>
<g id="n321"><circle cx="396.7" cy="1287" r="4.8"/></g>
<g id="n322"><circle cx="430" cy="1287" r="4.8"/></g>
<g id="n323"><circle cx="396.7" cy="1307.3" r="4.8"/></g>
<g id="n324"><circle cx="430" cy="1307.3" r="4.8"/></g>
<g id="n325"><circle cx="430" cy="1327.6" r="4.8"/></g>
<g id="n326"><circle cx="430" cy="1347.8" r="4.8"/></g>
<g id="n327"><circle cx="430" cy="1368.1" r="4.8"/></g>
<g id="n328"><circle cx="430" cy="1388.4" r="4.8"/></g>
<g id="n329"><circle cx="421.7" cy="1408.6" r="4.8"/></g>
<g id="n330"><circle cx="455" cy="1408.6" r="4.8"/></g>
<g id="n331"><circle cx="421.7" cy="1428.9" r="4.8"/></g>
<g id="n332"><circle cx="455" cy="1428.9" r="4.8"/></g>
<g id="n333"><circle cx="437.7" cy="1449.2" r="4.8"/></g>
<g id="n334"><circle cx="471.7" cy="1449.2" r="4.8"/></g>
<g id="n335"><circle cx="437.7" cy="1469.4" r="4.8"/></g>
<g id="n336"><circle cx="471.7" cy="1469.4" r="4.8"/></g>
</g>
</svg>
